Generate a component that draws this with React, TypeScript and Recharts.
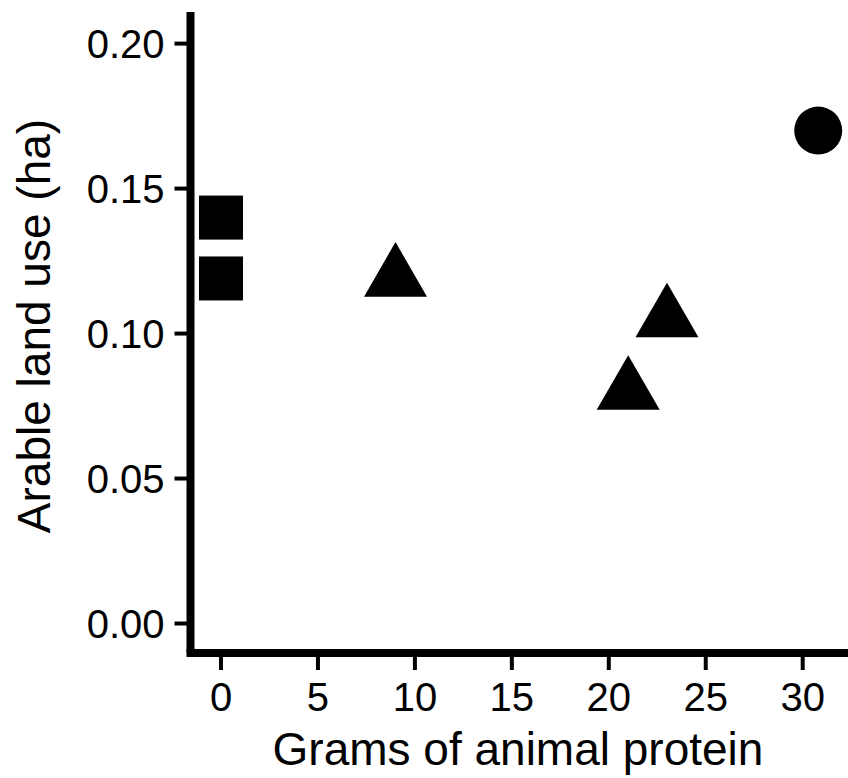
import { Label, Scatter, ScatterChart, XAxis, YAxis } from 'recharts';

// grams of animal protein / arable land use (ha)
const squareX = [0, 0];
const squareY = [0.14, 0.119];
const triangleX = [9, 21, 23];
const triangleY = [0.119, 0.08, 0.105];
const circleX = [30.8];
const circleY = [0.17];

const xTicks = [0, 5, 10, 15, 20, 25, 30];
const yTicks = [0, 0.05, 0.1, 0.15, 0.2];

const toPoints = (xs: number[], ys: number[]) => xs.map((x, i) => ({ x, y: ys[i] }));

const FONT = '"Liberation Sans", Arial, sans-serif';

function SquareShape({ cx, cy }: any) {
  const s = 44;
  return <rect x={cx - s / 2} y={cy - s / 2} width={s} height={s} fill="#000" />;
}

function TriangleShape({ cx, cy }: any) {
  const side = 63;
  const r = side / Math.sqrt(3);
  const pts = `${cx},${cy - r} ${cx - side / 2},${cy + r / 2} ${cx + side / 2},${cy + r / 2}`;
  return <polygon points={pts} fill="#000" />;
}

function CircleShape({ cx, cy }: any) {
  return <circle cx={cx} cy={cy} r={24} fill="#000" />;
}

export default function App() {
  return (
    <div style={{ position: 'absolute', left: 0, top: 0, background: '#fff' }}>
      <ScatterChart width={848} height={778} margin={{ top: 12, right: 0, bottom: 0, left: 0 }}>
        <XAxis
          type="number"
          dataKey="x"
          domain={[-1.573, 32.336]}
          ticks={xTicks}
          allowDataOverflow
          height={125}
          tickSize={17}
          tickMargin={13}
          axisLine={{ stroke: '#000', strokeWidth: 8, strokeLinecap: 'square' }}
          tickLine={{ stroke: '#000', strokeWidth: 4 }}
          tick={{ fill: '#000', fontSize: 40, fontFamily: FONT }}
        >
          <Label
            content={() => (
              <text x={518} y={765} textAnchor="middle" fontSize={46} fontFamily={FONT} fill="#000">
                Grams of animal protein
              </text>
            )}
          />
        </XAxis>
        <YAxis
          type="number"
          dataKey="y"
          domain={[-0.01017, 0.2109]}
          ticks={yTicks}
          allowDataOverflow
          width={190.5}
          tickSize={16}
          tickMargin={10}
          tickFormatter={(v: number) => v.toFixed(2)}
          axisLine={{ stroke: '#000', strokeWidth: 8 }}
          tickLine={{ stroke: '#000', strokeWidth: 4 }}
          tick={{ fill: '#000', fontSize: 40, fontFamily: FONT }}
        >
          <Label
            content={() => (
              <text
                x={50}
                y={326}
                transform="rotate(-90 50 326)"
                textAnchor="middle"
                fontSize={46}
                fontFamily={FONT}
                fill="#000"
              >
                Arable land use (ha)
              </text>
            )}
          />
        </YAxis>
        <Scatter data={toPoints(squareX, squareY)} shape={SquareShape} isAnimationActive={false} />
        <Scatter data={toPoints(triangleX, triangleY)} shape={TriangleShape} isAnimationActive={false} />
        <Scatter data={toPoints(circleX, circleY)} shape={CircleShape} isAnimationActive={false} />
      </ScatterChart>
    </div>
  );
}
